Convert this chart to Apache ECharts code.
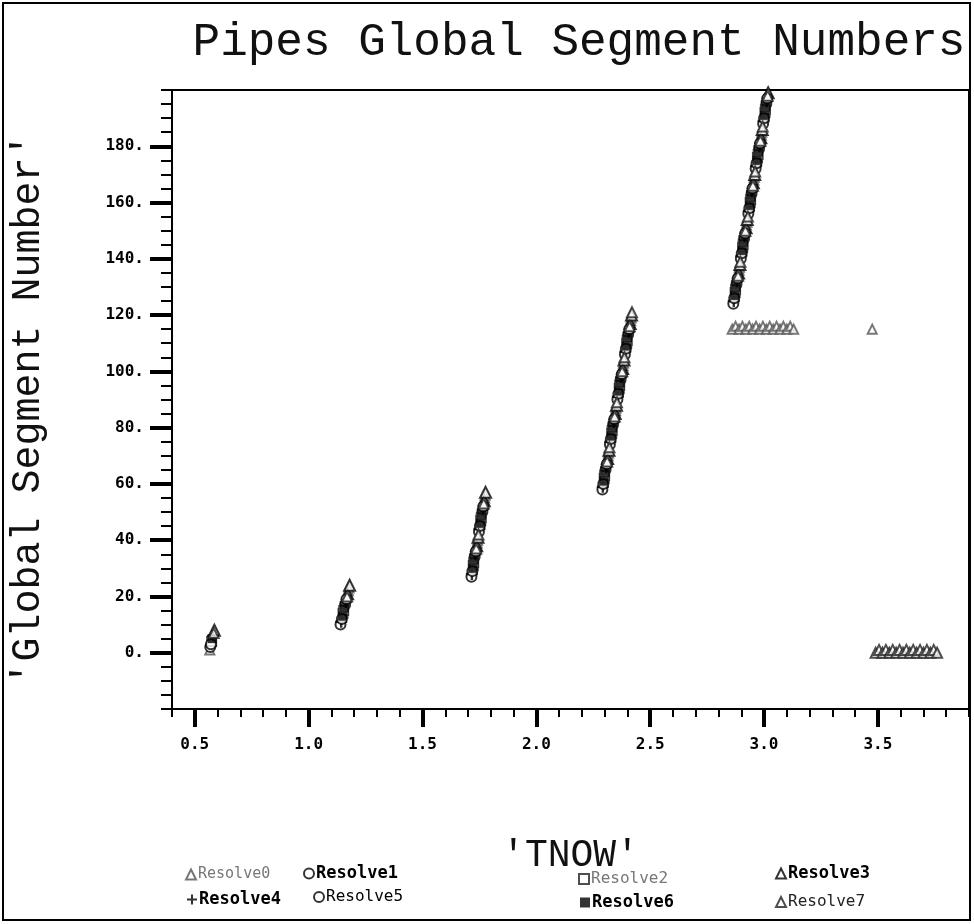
<!DOCTYPE html>
<html><head><meta charset="utf-8">
<script src="https://cdn.jsdelivr.net/npm/echarts@6/dist/echarts.min.js"></script>
<style>html,body{margin:0;padding:0;background:#fff}#c{width:974px;height:924px}</style>
</head><body><div id="c"></div>
<script>
const titleText = 'Pipes Global Segment Numbers';
const xName = "'TNOW'";
const yName = "'Global Segment Number'";
const seriesNames = ['Resolve0','Resolve1','Resolve2','Resolve3','Resolve4','Resolve5','Resolve6','Resolve7'];
const xTicks = [0.5, 1.0, 1.5, 2.0, 2.5, 3.0, 3.5];
const yTicks = [0, 20, 40, 60, 80, 100, 120, 140, 160, 180];

// [TNOW, global segment number]
const resolve0 = [[0.566,1],[1.174,22],[1.177,23],[1.740,39],[1.742,40],[1.773,55],[1.775,56],
  [2.315,70],[2.317,71],[2.348,86],[2.350,87],[2.381,102],[2.383,103],[2.414,118],[2.416,119],
  [2.890,136],[2.892,137],[2.922,152],[2.925,153],[2.955,168],[2.957,169],[2.988,184],[2.990,185],
  [2.860,115],[2.875,116],[2.890,115],[2.905,116],[2.920,115],[2.935,116],[2.950,115],[2.965,116],[2.980,115],[2.995,116],
  [3.010,115],[3.025,116],[3.040,115],[3.055,116],[3.070,115],[3.085,116],[3.100,115],[3.115,116],[3.130,115],[3.475,115]];
const resolve1 = [[0.568,2],[1.140,10],[1.160,17],[1.715,27],[1.729,34],[1.748,43],[1.763,50],
  [2.290,58],[2.304,65],[2.323,74],[2.337,81],[2.356,90],[2.370,97],[2.389,106],[2.403,113],
  [2.865,124],[2.879,131],[2.898,140],[2.912,147],[2.931,156],[2.945,163],[2.963,172],[2.978,179],[2.996,188],[3.010,195]];
const resolve2 = [[0.574,4],[1.151,14],[1.154,15],[1.723,31],[1.725,32],[1.756,47],[1.758,48],
  [2.298,62],[2.300,63],[2.331,78],[2.333,79],[2.364,94],[2.366,95],[2.397,110],[2.399,111],
  [2.873,128],[2.875,129],[2.906,144],[2.908,145],[2.939,160],[2.941,161],[2.971,176],[2.974,177],[3.004,192],[3.006,193]];
const resolve3 = [[0.586,8],[1.171,21],[1.180,24],[1.738,38],[1.744,41],[1.771,54],[1.777,57],
  [2.313,69],[2.319,72],[2.346,85],[2.352,88],[2.379,101],[2.385,104],[2.412,117],[2.418,120],
  [2.888,135],[2.894,138],[2.921,151],[2.926,154],[2.953,167],[2.959,170],[2.986,183],[2.992,186],[3.018,199]];
const resolve4 = [[0.580,6],[1.143,11],[1.163,18],[1.717,28],[1.732,35],[1.750,44],[1.765,51],
  [2.292,59],[2.307,66],[2.325,75],[2.340,82],[2.358,91],[2.373,98],[2.391,107],[2.406,114],
  [2.867,125],[2.881,132],[2.900,141],[2.914,148],[2.933,157],[2.947,164],[2.965,173],[2.980,180],[2.998,189],[3.012,196]];
const resolve5 = [[0.571,3],[1.146,12],[1.166,19],[1.719,29],[1.734,36],[1.752,45],[1.767,52],
  [2.294,60],[2.309,67],[2.327,76],[2.342,83],[2.360,92],[2.375,99],[2.393,108],[2.408,115],
  [2.869,126],[2.884,133],[2.902,142],[2.917,149],[2.935,158],[2.949,165],[2.967,174],[2.982,181],[3.000,190],[3.014,197]];
const resolve6 = [[0.577,5],[1.149,13],[1.157,16],[1.721,30],[1.727,33],[1.754,46],[1.760,49],
  [2.296,61],[2.302,64],[2.329,77],[2.335,80],[2.362,93],[2.368,96],[2.395,109],[2.401,112],
  [2.871,127],[2.877,130],[2.904,143],[2.910,146],[2.937,159],[2.943,162],[2.969,175],[2.976,178],[3.002,191],[3.008,194]];
const resolve7 = [[0.583,7],[1.169,20],[1.736,37],[1.746,42],[1.769,53],
  [2.311,68],[2.321,73],[2.344,84],[2.354,89],[2.377,100],[2.387,105],[2.410,116],[2.420,121],
  [2.886,134],[2.896,139],[2.918,150],[2.929,155],[2.951,166],[2.961,171],[2.984,182],[2.994,187],[3.016,198],
  [3.490,0],[3.505,1],[3.520,0],[3.535,1],[3.550,0],[3.565,1],[3.580,0],[3.595,1],[3.610,0],[3.625,1],
  [3.640,0],[3.655,1],[3.670,0],[3.685,1],[3.700,0],[3.715,1],[3.730,0],[3.745,1],[3.760,0]];
const seriesData = [resolve0, resolve1, resolve2, resolve3, resolve4, resolve5, resolve6, resolve7];

const plusPath = 'path://M4,0H6V4H10V6H6V10H4V6H0V4H4Z';
const styles = [
  {symbol:'emptyTriangle', size:9, color:'#555', bw:1, text:{color:'#777', fontWeight:'normal', fontSize:15}},
  {symbol:'emptyCircle', size:10, color:'#000', bw:3, text:{color:'#000', fontWeight:'bold', fontSize:17}},
  {symbol:'emptyRect', size:9, color:'#222', bw:2, text:{color:'#777', fontWeight:'normal', fontSize:16}},
  {symbol:'emptyTriangle', size:11, color:'#000', bw:3, text:{color:'#000', fontWeight:'bold', fontSize:17}},
  {symbol:plusPath, size:12, color:'#000', bw:0, text:{color:'#000', fontWeight:'bold', fontSize:17}},
  {symbol:'emptyCircle', size:10, color:'#000', bw:2, text:{color:'#000', fontWeight:'normal', fontSize:16}},
  {symbol:'rect', size:9, color:'#000', bw:0, text:{color:'#000', fontWeight:'bold', fontSize:17}},
  {symbol:'emptyTriangle', size:10, color:'#222', bw:2, text:{color:'#222', fontWeight:'normal', fontSize:16}}
];
const legendPos = [[180,862],[298,860],[573,866],[770,860],[182,886],[308,884],[575,889],[770,889]];

const mono = 'DejaVu Sans Mono';
const chart = echarts.init(document.getElementById('c'), null, {renderer:'canvas'});
chart.setOption({
  backgroundColor:'#fff',
  animation:false,
  title:{text:titleText, left:574, top:15, textAlign:'center',
    textStyle:{fontFamily:'Liberation Mono', fontSize:46, fontWeight:'normal', color:'#111'}},
  graphic:[{type:'rect', shape:{x:3, y:3, width:967, height:917}, style:{fill:'none', stroke:'#000', lineWidth:2}, silent:true}],
  legend: seriesNames.map((n,i)=>({
    left:legendPos[i][0], top:legendPos[i][1], orient:'vertical', itemWidth:10, itemHeight:10, itemGap:2,
    data:[{name:n, textStyle:Object.assign({fontFamily:mono}, styles[i].text)}],
    textStyle:{fontFamily:mono, padding:[0,0,0,-3]}
  })),
  grid:{left:171, right:5, top:90, bottom:215, show:true, borderColor:'#000', borderWidth:2, backgroundColor:'transparent'},
  xAxis:[{
    type:'value', min:0.4, max:3.9, position:'bottom',
    name:xName, nameLocation:'middle', nameGap:128,
    nameTextStyle:{fontFamily:'Liberation Mono', fontSize:38, color:'#111'},
    axisLine:{onZero:false, lineStyle:{color:'#000', width:2}},
    axisTick:{customValues:xTicks, length:18, lineStyle:{color:'#000', width:4}},
    axisLabel:{customValues:xTicks, margin:28, formatter:v=>v.toFixed(1), fontFamily:mono, fontWeight:'bold', fontSize:16, color:'#000'},
    splitLine:{show:false}
  },{
    type:'value', min:0.4, max:3.9, interval:0.1, position:'bottom',
    axisLine:{show:false, onZero:false}, axisLabel:{show:false}, splitLine:{show:false},
    axisTick:{length:8, lineStyle:{color:'#000', width:2}}
  }],
  yAxis:[{
    type:'value', min:-20, max:200, position:'left',
    name:yName, nameLocation:'middle', nameGap:124, nameRotate:90,
    nameTextStyle:{fontFamily:'Liberation Mono', fontSize:40, color:'#111', padding:[0,20,0,0]},
    axisLine:{onZero:false, lineStyle:{color:'#000', width:2}},
    axisTick:{customValues:yTicks, length:22, lineStyle:{color:'#000', width:4}},
    axisLabel:{customValues:yTicks, margin:28, formatter:v=>v+'.', fontFamily:mono, fontWeight:'bold', fontSize:16, color:'#000'},
    splitLine:{show:false}
  },{
    type:'value', min:-20, max:200, interval:5, position:'left',
    axisLine:{show:false, onZero:false}, axisLabel:{show:false}, splitLine:{show:false},
    axisTick:{length:11, lineStyle:{color:'#000', width:2}}
  }],
  series: seriesNames.map((n,i)=>({
    name:n, type:'scatter', xAxisIndex:0, yAxisIndex:0, data:seriesData[i],
    symbol:styles[i].symbol, symbolSize:styles[i].size,
    itemStyle: styles[i].bw ? {color:styles[i].color, borderColor:styles[i].color, borderWidth:styles[i].bw}
                            : {color:styles[i].color},
    clip:true
  }))
});
</script></body></html>
